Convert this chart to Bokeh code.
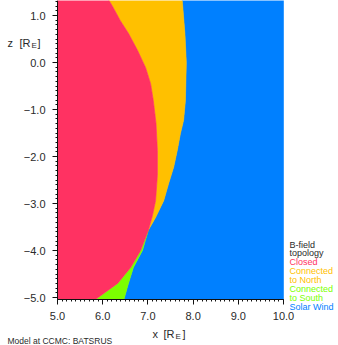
from bokeh.plotting import figure
from bokeh.models import FixedTicker, Range1d, LinearAxis
from bokeh.core.properties import value
from bokeh.embed import file_html
from bokeh.resources import INLINE

# ---- data ----
X_MIN, X_MAX = 5.0, 10.0
Z_MIN, Z_MAX = -5.04, 1.32

# Closed / Connected-to-North boundary (top -> triple point)
closed_north_z = [1.32, 1.19, 0.89, 0.62, 0.26, -0.11, -0.45, -0.81, -1.30, -1.87, -2.40, -2.94, -3.26, -3.57]
closed_north_x = [6.14, 6.22, 6.39, 6.57, 6.77, 6.95, 7.06, 7.12, 7.18, 7.21, 7.21, 7.17, 7.10, 7.01]
# Closed / Connected-to-South boundary (triple point -> bottom)
closed_south_z = [-3.57, -4.00, -4.36, -4.70, -5.04]
closed_south_x = [7.01, 6.84, 6.62, 6.33, 5.84]
# Connected-to-North / Solar Wind boundary (top -> triple point)
north_wind_z = [1.32, 0.60, 0.00, -0.81, -1.23, -1.51, -1.87, -2.23, -2.57, -2.94, -3.30, -3.57]
north_wind_x = [7.76, 7.82, 7.85, 7.83, 7.79, 7.72, 7.65, 7.57, 7.46, 7.35, 7.17, 7.01]
# Connected-to-South / Solar Wind boundary (triple point -> bottom)
south_wind_z = [-3.57, -4.00, -4.36, -4.70, -5.04]
south_wind_x = [7.01, 6.88, 6.68, 6.57, 6.47]

x_ticks = [5, 6, 7, 8, 9, 10]
x_tick_labels = ["5.0", "6.0", "7.0", "8.0", "9.0", "10.0"]
z_ticks = [-5, -4, -3, -2, -1, 0, 1]
z_tick_labels = ["\u22125.0", "\u22124.0", "\u22123.0", "\u22122.0", "\u22121.0", "0.0", "1.0"]

categories = ["Closed", "Connected\nto North", "Connected\nto South", "Solar Wind"]
colors = ["#ff3262", "#ffc000", "#7cff00", "#0080ff"]

# ---- region polygons built from boundaries ----
closed_xs = [X_MIN] + closed_north_x + closed_south_x[1:] + [X_MIN]
closed_zs = [Z_MAX] + closed_north_z + closed_south_z[1:] + [Z_MIN]
north_xs = closed_north_x + north_wind_x[::-1]
north_zs = closed_north_z + north_wind_z[::-1]
south_xs = closed_south_x + south_wind_x[::-1]
south_zs = closed_south_z + south_wind_z[::-1]
wind_xs = north_wind_x + south_wind_x[1:] + [X_MAX, X_MAX]
wind_zs = north_wind_z + south_wind_z[1:] + [Z_MIN, Z_MAX]

# ---- layout: frame covers the whole canvas ----
W, H = 338, 345
PX_X, PX_Z = 45.2, 47.0          # pixels per unit
X0_PX, Z1_PX = 57, 15            # canvas px of x=5.0 and z=1.0
xr0 = X_MIN - X0_PX / PX_X
zr1 = 1.0 + Z1_PX / PX_Z

p = figure(width=W, height=H, output_backend="svg", toolbar_location=None,
           x_range=Range1d(xr0, xr0 + W / PX_X), y_range=Range1d(zr1 - H / PX_Z, zr1),
           x_axis_location=None, y_axis_location=None,
           min_border=0, min_border_left=0, min_border_right=0,
           min_border_top=0, min_border_bottom=0)
p.outline_line_color = None
p.grid.visible = False

for xs, zs, c in [(wind_xs, wind_zs, colors[3]), (north_xs, north_zs, colors[1]),
                  (south_xs, south_zs, colors[2]), (closed_xs, closed_zs, colors[0])]:
    p.patch(xs, zs, fill_color=c, line_color=c, line_width=0.6)

# axes fixed at the plot edges
xaxis = LinearAxis(fixed_location=Z_MIN, bounds=(X_MIN, X_MAX),
                   ticker=FixedTicker(ticks=x_ticks, minor_ticks=[X_MIN + i * 0.1 for i in range(51)]))
yaxis = LinearAxis(fixed_location=X_MIN, bounds=(Z_MIN, Z_MAX),
                   ticker=FixedTicker(ticks=z_ticks, minor_ticks=[-5 + i * 0.1 for i in range(64)]))
xaxis.major_label_overrides = {t: l for t, l in zip(x_ticks, x_tick_labels)}
yaxis.major_label_overrides = {t: l for t, l in zip(z_ticks, z_tick_labels)}
for ax in (xaxis, yaxis):
    ax.axis_line_color = "#111111"
    ax.major_tick_line_color = "#111111"
    ax.minor_tick_line_color = "#111111"
    ax.major_tick_out = 5
    ax.major_tick_in = 0
    ax.minor_tick_out = 2
    ax.minor_tick_in = 0
    ax.major_label_text_font = "Liberation Sans"
    ax.major_label_text_font_size = "11px"
    ax.major_label_text_color = "#2a2a2a"
xaxis.major_label_standoff = 8
yaxis.major_label_standoff = 7
p.add_layout(xaxis, "below")
p.add_layout(yaxis, "left")

# canvas px -> data helpers for text placement
def dx(px):
    return X_MIN + (px - X0_PX) / PX_X

def dz(py):
    return 1.0 - (py - Z1_PX) / PX_Z

def lab(text, px, py, size, color="#2a2a2a"):
    p.text(x=[dx(px)], y=[dz(py)], text=[text], text_font=value("Liberation Sans"),
           text_font_size=size, text_color=color, text_baseline="middle", text_align="left")

# axis titles
lab("z", 7, 42, "11px")
lab("[R", 19, 42, "11px")
lab("E", 31, 45, "8px")
lab("]", 37, 42, "11px")
lab("x", 152, 333, "11px")
lab("[R", 163, 333, "11px")
lab("E", 175, 336, "8px")
lab("]", 182, 333, "11px")

# legend
legend_lines = [("B-field", "#2a2a2a"), ("topology", "#2a2a2a")]
for cat, c in zip(categories, colors):
    for part in cat.split("\n"):
        legend_lines.append((part, c))
for i, (t, c) in enumerate(legend_lines):
    lab(t, 289, 244 + i * 8.9, "9px", c)

lab("Model at CCMC: BATSRUS", 7, 340, "8.5px")

open("out.html", "w").write(file_html(p, INLINE))
